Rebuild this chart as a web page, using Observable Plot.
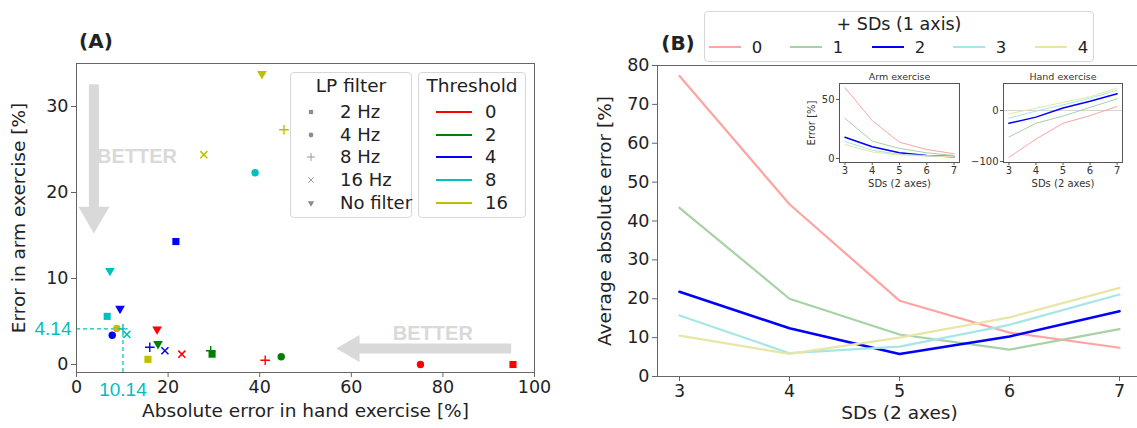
<!DOCTYPE html>
<html><head><meta charset="utf-8">
<script src="https://cdn.jsdelivr.net/npm/d3@7"></script>
<script src="https://cdn.jsdelivr.net/npm/@observablehq/plot@0.6"></script>
<style>
body{margin:0;background:#fff;font-family:"DejaVu Sans",sans-serif;}
#root{position:relative;width:1137px;height:428px;overflow:hidden;background:#fff;}
.lbl{position:absolute;white-space:nowrap;line-height:1;color:#222;font-family:"DejaVu Sans",sans-serif;}
.box{position:absolute;border:1px solid #d6d6d6;border-radius:4px;background:rgba(255,255,255,0.85);box-sizing:border-box;}
</style></head><body><div id="root"></div>
<script>
// ---------------- Panel A data ----------------
const filters = ["2 Hz", "4 Hz", "8 Hz", "16 Hz", "No filter"];
const thresholds = ["0", "2", "4", "8", "16"];
const thresholdColors = ["#ff0000", "#008000", "#0000ff", "#00bfbf", "#bfbf00"];
const ptThreshold = ["0","0","0","0","0", "2","2","2","2", "4","4","4","4","4", "8","8","8","8","8", "16","16","16","16","16"];
const ptFilter = ["2 Hz","4 Hz","8 Hz","16 Hz","No filter", "2 Hz","4 Hz","8 Hz","No filter",
                  "2 Hz","4 Hz","8 Hz","16 Hz","No filter", "2 Hz","4 Hz","8 Hz","16 Hz","No filter",
                  "2 Hz","4 Hz","8 Hz","16 Hz","No filter"];
const ptHandErr = [95.3, 75.1, 41.2, 23.0, 17.6,  29.6, 44.7, 29.3, 17.8,  21.7, 7.8, 16.0, 19.3, 9.5,
                   6.7, 39.0, 10.14, 11.0, 7.3,  15.6, 8.8, 45.3, 27.8, 40.5];
const ptArmErr  = [0.0, 0.0, 0.5, 1.2, 4.1,  1.2, 0.9, 1.6, 2.4,  14.3, 3.4, 2.0, 1.6, 6.5,
                   5.6, 22.3, 4.14, 3.5, 10.9,  0.6, 4.2, 27.3, 24.4, 33.8];
const markHand = [10.14];
const markArm = [4.14];
const xTicksA = [0, 20, 40, 60, 80, 100];
const yTicksA = [0, 10, 20, 30];
// "BETTER" arrows (data coordinates)
const arrowShaftX1 = [3.8, 94.9], arrowShaftY1 = [32.6, 1.86];
const arrowShaftX2 = [3.8, 60.1], arrowShaftY2 = [17.3, 1.86];
const betterX = [13.2, 77.8], betterY = [24.2, 3.6];

// ---------------- Panel B data ----------------
const sds2 = [3, 4, 5, 6, 7];
const addSD = ["0", "1", "2", "3", "4"];
const sdColors = ["#ffa3a3", "#a6d2a6", "#0000ff", "#a6e6e6", "#e6e6a6"];
const avgErr0 = [77.3, 44.3, 19.5, 11.3, 7.4];
const avgErr1 = [43.4, 20.0, 10.8, 6.9, 12.2];
const avgErr2 = [21.8, 12.4, 5.8, 10.3, 16.8];
const avgErr3 = [15.7, 6.0, 7.7, 13.3, 21.1];
const avgErr4 = [10.5, 5.8, 10.0, 15.2, 22.8];
const armErr0 = [60, 32, 13.8, 7.6, 4];
const armErr1 = [34, 14.7, 8.5, 4.8, 2.5];
const armErr2 = [18, 10, 4.8, 2.5, 1.5];
const armErr3 = [14.4, 7, 3.5, 2.5, 1.5];
const armErr4 = [11.8, 5.5, 3, 2, 1.5];
const handErr0 = [-92, -56, -25, -10, 8];
const handErr1 = [-52, -25, -11, 6, 23];
const handErr2 = [-25, -13, 5, 18, 33];
const handErr3 = [-15, -1, 11, 24, 40];
const handErr4 = [-6.5, 4.5, 16, 27, 44];

// ---------------- helpers ----------------
const root = document.getElementById("root");
function put(node, x, y) { node.style.position = "absolute"; node.style.left = x + "px"; node.style.top = y + "px"; root.appendChild(node); return node; }
function label(text, x, y, {size = 16, anchor = "middle", weight = "normal", color = "#222", family = null} = {}) {
  const d = document.createElement("div");
  d.className = "lbl"; d.textContent = text;
  const tx = anchor === "middle" ? "-50%" : anchor === "end" ? "-100%" : "0";
  d.style.cssText += `left:${x}px;top:${y}px;font-size:${size}px;font-weight:${weight};color:${color};transform:translate(${tx},-50%);` + (family ? `font-family:${family};` : "");
  root.appendChild(d);
}
function box(x, y, w, h) { const d = document.createElement("div"); d.className = "box"; d.style.cssText += `left:${x}px;top:${y}px;width:${w}px;height:${h}px;`; root.appendChild(d); }
function hline(x1, x2, y, color, w) { const d = document.createElement("div"); d.style.cssText = `position:absolute;left:${x1}px;top:${y - w / 2}px;width:${x2 - x1}px;height:${w}px;background:${color};`; root.appendChild(d); }
const tidy = (series) => series.flatMap((vals, j) => vals.map((v, i) => ({sd: sds2[i], add: addSD[j], err: v})));
const intFmt = d => String(d).replace("-", "\u2212");

// ---------------- Panel A ----------------
const points = ptHandErr.map((h, i) => ({hand: h, arm: ptArmErr[i], filter: ptFilter[i], threshold: ptThreshold[i]}));
const arrows = arrowShaftX1.map((x, i) => ({x1: x, y1: arrowShaftY1[i], x2: arrowShaftX2[i], y2: arrowShaftY2[i]}));
const yDomA = [-0.93, 35];
const gray = "#d9d9d9";
const sel = (f) => points.filter(d => d.filter === f);
const plotA = Plot.plot({
  width: 560, height: 428,
  marginLeft: 76, marginRight: 26, marginTop: 63, marginBottom: 56,
  x: {domain: [0, 100]},
  y: {domain: yDomA},
  color: {domain: thresholds, range: thresholdColors},
  style: {fontFamily: "DejaVu Sans", fontSize: "17.5px", color: "#222", background: "transparent"},
  marks: [
    Plot.link(arrows, {x1: "x1", y1: "y1", x2: "x2", y2: "y2", stroke: gray, strokeWidth: 10}),
    Plot.dot([arrows[0]], {x: "x2", y: "y2", symbol: "triangle", r: 11.5, rotate: 180, fill: gray}),
    Plot.dot([arrows[1]], {x: "x2", y: "y2", symbol: "triangle", r: 10, rotate: 270, fill: gray}),
    Plot.text(["BETTER", "BETTER"], {x: betterX, y: betterY, fill: gray, fontWeight: "bold", fontSize: 20,
      fontFamily: "Liberation Sans Narrow, Liberation Sans, sans-serif"}),
    Plot.ruleY(markArm, {x1: 0, x2: markHand[0], stroke: "#00bfbf", strokeWidth: 1.2, strokeDasharray: "4,3"}),
    Plot.ruleX(markHand, {y1: yDomA[0], y2: markArm[0], stroke: "#00bfbf", strokeWidth: 1.2, strokeDasharray: "4,3"}),
    Plot.dot(sel("2 Hz"), {x: "hand", y: "arm", symbol: "square", r: 4, fill: "threshold"}),
    Plot.dot(sel("4 Hz"), {x: "hand", y: "arm", symbol: "circle", r: 3.7, fill: "threshold"}),
    Plot.dot(sel("8 Hz"), {x: "hand", y: "arm", symbol: "plus", r: 3.2, stroke: "threshold", strokeWidth: 1.4}),
    Plot.dot(sel("16 Hz"), {x: "hand", y: "arm", symbol: "times", r: 3.3, stroke: "threshold", strokeWidth: 1.5}),
    Plot.dot(sel("No filter"), {x: "hand", y: "arm", symbol: "triangle", r: 3.6, rotate: 180, fill: "threshold"}),
    Plot.axisX({ticks: xTicksA, tickFormat: intFmt, tickSize: 5, tickPadding: 3, stroke: "#666", label: null}),
    Plot.axisY({ticks: yTicksA, tickFormat: intFmt, tickSize: 5, tickPadding: 3, stroke: "#666", label: null}),
    Plot.text(markArm, {x: 0, y: d => d, text: d => String(d), textAnchor: "end", dx: -5, fill: "#00bfbf", fontSize: 19,
      fontFamily: "Liberation Sans, sans-serif"}),
    Plot.text(markHand, {x: d => d, y: yDomA[0], text: d => String(d), dy: 17, fill: "#00bfbf", fontSize: 19,
      fontFamily: "Liberation Sans, sans-serif"}),
    Plot.frame({stroke: "#666"}),
    Plot.text(["Absolute error in hand exercise [%]"], {frameAnchor: "bottom", lineAnchor: "middle", textAnchor: "middle", dy: 39, fontSize: 18.5}),
    Plot.text(["Error in arm exercise [%]"], {frameAnchor: "left", lineAnchor: "middle", textAnchor: "middle", rotate: -90, dx: -57, fontSize: 18.5})
  ]
});
put(plotA, 0, 0);

// ---------------- Panel B ----------------
const rowsB = tidy([avgErr0, avgErr1, avgErr2, avgErr3, avgErr4]);
const plotB = Plot.plot({
  width: 580, height: 428,
  marginLeft: 77, marginRight: 19, marginTop: 65, marginBottom: 52,
  x: {domain: [2.8, 7.2]},
  y: {domain: [0, 80]},
  color: {domain: addSD, range: sdColors},
  style: {fontFamily: "DejaVu Sans", fontSize: "17.5px", color: "#222", background: "transparent"},
  marks: [
    ...addSD.map(a => Plot.line(rowsB.filter(d => d.add === a), {x: "sd", y: "err", stroke: "add", strokeWidth: a === "2" ? 2.6 : 2.2})),
    Plot.axisX({ticks: sds2, tickFormat: intFmt, tickSize: 5, tickPadding: 3, stroke: "#666", label: null}),
    Plot.axisY({ticks: d3.range(0, 81, 10), tickFormat: intFmt, tickSize: 5, tickPadding: 3, stroke: "#666", label: null}),
    Plot.frame({stroke: "#666"}),
    Plot.text(["SDs (2 axes)"], {frameAnchor: "bottom", lineAnchor: "middle", textAnchor: "middle", dy: 37, fontSize: 18.5}),
    Plot.text(["Average absolute error [%]"], {frameAnchor: "left", lineAnchor: "middle", textAnchor: "middle", rotate: -90, dx: -52, fontSize: 18.5})
  ]
});
put(plotB, 580, 0);

function inset(series, yDomain, yTicks, title, ylabel, zero, frameW) {
  const rows = tidy(series);
  return Plot.plot({
    width: 40 + frameW + 8, height: 20 + 79 + 30,
    marginLeft: 40, marginRight: 8, marginTop: 20, marginBottom: 30,
    x: {domain: [2.8, 7.2]},
    y: {domain: yDomain},
    color: {domain: addSD, range: sdColors},
    style: {fontFamily: "DejaVu Sans", fontSize: "10px", color: "#333", background: "transparent"},
    marks: [
      zero ? Plot.ruleY([0], {stroke: "#d4d4d4", strokeWidth: 1}) : null,
      ...addSD.map(a => Plot.line(rows.filter(d => d.add === a), {x: "sd", y: "err", stroke: "add", strokeWidth: a === "2" ? 1.5 : 1})),
      Plot.axisX({ticks: sds2, tickFormat: intFmt, tickSize: 3, tickPadding: 1.5, stroke: "#555", label: null}),
      Plot.axisY({ticks: yTicks, tickFormat: intFmt, tickSize: 3, tickPadding: 2, stroke: "#555", label: null}),
      Plot.frame({stroke: "#555"}),
      Plot.text([title], {frameAnchor: "top", lineAnchor: "middle", textAnchor: "middle", dy: -7, fontSize: 9.5}),
      Plot.text(["SDs (2 axes)"], {frameAnchor: "bottom", lineAnchor: "middle", textAnchor: "middle", dy: 21, fontSize: 10}),
      ylabel ? Plot.text([ylabel], {frameAnchor: "left", lineAnchor: "middle", textAnchor: "middle", rotate: -90, dx: -28, fontSize: 10}) : null
    ]
  });
}
put(inset([armErr0, armErr1, armErr2, armErr3, armErr4], [-3.4, 63.5], [0, 50], "Arm exercise", "Error [%]", false, 120), 799, 63);
put(inset([handErr0, handErr1, handErr2, handErr3, handErr4], [-102, 53], [-100, 0], "Hand exercise", null, true, 119), 963, 63);

// ---------------- Legends & panel tags ----------------
label("(A)", 96, 41, {size: 20, weight: "bold"});
label("(B)", 678, 43, {size: 20, weight: "bold"});

// LP filter legend
box(290, 72, 122, 146);
label("LP filter", 351, 86, {size: 18.5});
const lpSym = {"2 Hz": d3.symbolSquare, "4 Hz": d3.symbolCircle, "8 Hz": d3.symbolPlus, "16 Hz": d3.symbolTimes, "No filter": d3.symbolTriangle};
const legY = [112, 135, 157, 180, 203];
filters.forEach((f, i) => {
  const stroked = f === "8 Hz" || f === "16 Hz";
  const svg = d3.create("svg").attr("width", 14).attr("height", 14);
  svg.append("path")
    .attr("transform", "translate(7,7)" + (f === "No filter" ? " rotate(180)" : ""))
    .attr("d", d3.symbol(lpSym[f], stroked ? 22 : 18)())
    .attr("fill", stroked ? "none" : "#8c8c8c").attr("stroke", stroked ? "#9a9a9a" : "none").attr("stroke-width", 1);
  put(svg.node(), 311 - 7, legY[i] - 7);
  label(f, 340, legY[i], {size: 18, anchor: "start"});
});
// Threshold legend
box(418, 72, 108, 146);
label("Threshold", 472, 86, {size: 18.5});
thresholds.forEach((t, i) => {
  hline(436, 472, legY[i], thresholdColors[i], 2.6);
  label(t, 485, legY[i], {size: 18, anchor: "start"});
});

// Panel B legend
box(704, 11, 390, 51);
label("+ SDs (1 axis)", 899, 25, {size: 17.5});
const legBX = [709, 790, 872, 953, 1035];
addSD.forEach((a, i) => {
  hline(legBX[i], legBX[i] + 32, 47, sdColors[i], a === "2" ? 2.6 : 2);
  label(a, legBX[i] + 48, 48, {size: 16.5});
});
</script></body></html>
